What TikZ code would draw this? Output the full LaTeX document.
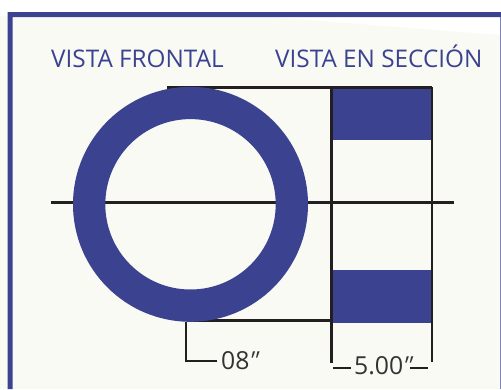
\documentclass[tikz,border=0pt]{standalone}
\usepackage{fontspec}
\setmainfont{Open Sans}
\newfontface\slantface[FakeSlant=0.3]{Open Sans}
\newcommand{\inchmark}{\kern-3.5pt{\slantface″}}
\definecolor{ringblue}{HTML}{3B4391}
\definecolor{cream}{HTML}{F9FAF3}
\definecolor{inkline}{HTML}{231F20}
\definecolor{inktext}{HTML}{333333}
\tikzset{
  dimline/.style={draw=inkline,line width=2.4pt},
  title/.style={text=ringblue,font=\fontsize{24.3}{28}\selectfont,inner sep=0pt},
  dimtext/.style={text=inktext,font=\fontsize{24.8}{28}\selectfont,inner sep=0pt}
}
\begin{document}
\begin{tikzpicture}[x=1pt,y=-1pt]
\useasboundingbox (0,0) rectangle (501,389);
\fill[white] (0,0) rectangle (501,389);
\fill[cream] (0,16) rectangle (501,389);
\fill[white] (0,0) rectangle (501,12);
\fill[white] (270,17) -- (500,17) -- (500,35) -- cycle;
\draw[draw=ringblue!65,line width=1pt] (500.2,12) -- (500.2,389);
\fill[ringblue] (7.5,389) -- (7.5,12) -- (501,12) -- (501,17) -- (12.5,17) -- (12.5,389) -- cycle;
\node[title,anchor=base west] (front) at (51,67) {VISTA FRONTAL};
\node[title,anchor=base west] (sect) at (275,67) {VISTA EN SECCIÓN};
\draw[dimline] (51,202.5) -- (454,202.5);
\draw[dimline] (167,87.5) -- (432,87.5);
\draw[dimline] (190,320.5) -- (331.5,320.5);
\fill[ringblue,even odd rule] (190.5,204.3) circle[radius=117.5] (190.5,204.3) circle[radius=85.2];
\fill[ringblue] (332.5,89) rectangle (431,140);
\fill[ringblue] (332.5,270) rectangle (431,323);
\draw[dimline] (331.5,87) -- (331.5,363);
\draw[dimline] (432,87) -- (432,362);
\draw[dimline] (186,322) -- (186,361) -- (217,361);
\node[dimtext,anchor=base west] (dia) at (221,369) {08\inchmark};
\node[dimtext,anchor=base west] (wid) at (354,374) {5.00\inchmark};
\coordinate (la) at (333,368); \coordinate (lb) at (351,368);
\coordinate (ra) at (410,368); \coordinate (rb) at (428,368);
\draw[dimline] (la) -- (lb);
\draw[dimline] (ra) -- (rb);
\end{tikzpicture}
\end{document}
